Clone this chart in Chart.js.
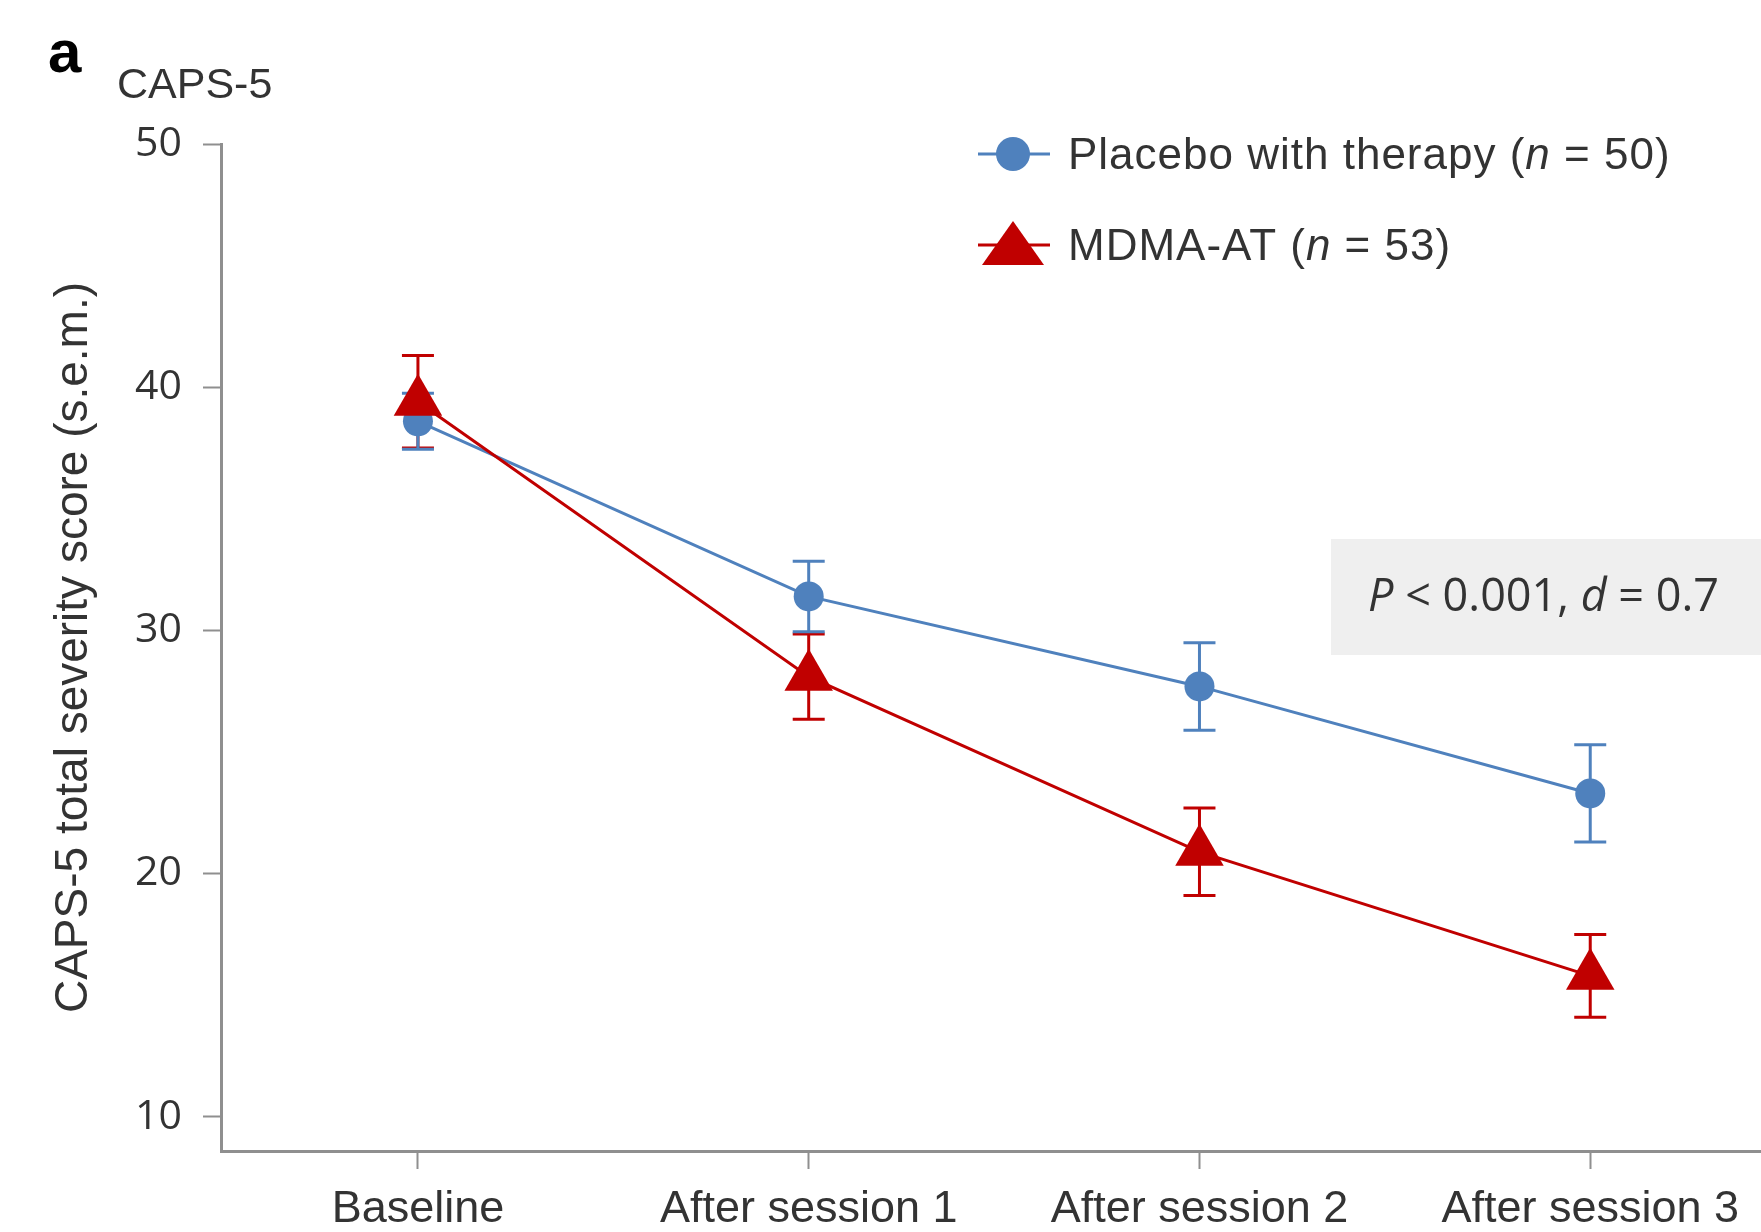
<!DOCTYPE html>
<html>
<head>
<meta charset="utf-8">
<script src="https://cdn.jsdelivr.net/npm/chart.js@4.4.1/dist/chart.umd.min.js"></script>
<style>
html, body { margin: 0; padding: 0; background: #fff; }
canvas { display: block; }
</style>
</head>
<body>
<canvas id="chart" width="1761" height="1232"></canvas>
<script>
// time points on the x axis
var timepoints = ["Baseline", "After session 1", "After session 2", "After session 3"];

// CAPS-5 mean scores and s.e.m.
var placeboMean = [38.6, 31.4, 27.7, 23.3];
var placeboSem = [1.15, 1.45, 1.8, 2.0];
var mdmaMean = [39.4, 28.1, 20.9, 15.8];
var mdmaSem = [1.9, 1.75, 1.8, 1.7];

var yTicks = [10, 20, 30, 40, 50];

var blue = "#4f81bd";
var red = "#c00000";
var axisGrey = "#8f8f8f";
var textColor = "#333333";

function toPoints(values) {
    return values.map(function (v, i) { return { x: i, y: v }; });
}

// s.e.m. whiskers, drawn under the markers
var errorBars = {
    id: "errorBars",
    beforeDatasetsDraw: function (chart) {
        var ctx = chart.ctx;
        var xs = chart.scales.x;
        var ys = chart.scales.y;
        chart.data.datasets.forEach(function (ds) {
            ctx.save();
            ctx.strokeStyle = ds.errorColor;
            ctx.lineWidth = 3;
            ds.data.forEach(function (p, i) {
                var px = xs.getPixelForValue(p.x);
                var top = ys.getPixelForValue(p.y + ds.sem[i]);
                var bot = ys.getPixelForValue(p.y - ds.sem[i]);
                ctx.beginPath();
                ctx.moveTo(px, top);
                ctx.lineTo(px, bot);
                ctx.moveTo(px - 16, top);
                ctx.lineTo(px + 16, top);
                ctx.moveTo(px - 16, bot);
                ctx.lineTo(px + 16, bot);
                ctx.stroke();
            });
            ctx.restore();
        });
    }
};

function drawRuns(ctx, runs, x, y) {
    runs.forEach(function (r) {
        ctx.font = r[1];
        ctx.fillText(r[0], x, y);
        x += ctx.measureText(r[0]).width;
    });
}

// panel letter, unit label, legend and stats box
var annotations = {
    id: "annotations",
    afterDraw: function (chart) {
        var ctx = chart.ctx;
        ctx.save();
        ctx.textBaseline = "alphabetic";
        ctx.textAlign = "left";

        ctx.fillStyle = "#000";
        ctx.font = "bold 60px 'Liberation Sans'";
        ctx.fillText("a", 48, 72);

        ctx.fillStyle = textColor;
        ctx.font = "43px 'Liberation Sans'";
        ctx.fillText("CAPS-5", 117, 98);

        // legend row 1
        ctx.strokeStyle = blue;
        ctx.lineWidth = 3;
        ctx.beginPath();
        ctx.moveTo(978, 154);
        ctx.lineTo(1050, 154);
        ctx.stroke();
        ctx.fillStyle = blue;
        ctx.beginPath();
        ctx.arc(1013, 154, 17, 0, Math.PI * 2);
        ctx.fill();

        // legend row 2
        ctx.strokeStyle = red;
        ctx.beginPath();
        ctx.moveTo(978, 245);
        ctx.lineTo(1050, 245);
        ctx.stroke();
        ctx.fillStyle = red;
        ctx.beginPath();
        ctx.moveTo(1013, 221);
        ctx.lineTo(1044, 265);
        ctx.lineTo(982, 265);
        ctx.closePath();
        ctx.fill();

        ctx.fillStyle = textColor;
        ctx.letterSpacing = "1px";
        var f = "44px 'Liberation Sans'";
        var fi = "italic 44px 'Liberation Sans'";
        drawRuns(ctx, [["Placebo with therapy (", f], ["n", fi], [" = 50)", f]], 1068, 169);
        drawRuns(ctx, [["MDMA-AT (", f], ["n", fi], [" = 53)", f]], 1068, 260);
        ctx.letterSpacing = "0px";

        // stats box
        ctx.fillStyle = "#efefef";
        ctx.fillRect(1331, 539, 430, 116);
        ctx.fillStyle = textColor;
        var g = "45px 'Open Sans'";
        var gi = "italic 45px 'Open Sans'";
        drawRuns(ctx, [["P", gi], [" < 0.001, ", g], ["d", gi], [" = 0.7", g]], 1368, 611);

        ctx.restore();
    }
};

new Chart(document.getElementById("chart"), {
    type: "line",
    data: {
        datasets: [
            {
                label: "MDMA-AT (n = 53)",
                data: toPoints(mdmaMean),
                sem: mdmaSem,
                errorColor: red,
                borderColor: red,
                backgroundColor: red,
                borderWidth: 3,
                pointStyle: "triangle",
                pointRadius: 28,
                pointBorderWidth: 0,
                pointBackgroundColor: red,
                order: 0
            },
            {
                label: "Placebo with therapy (n = 50)",
                data: toPoints(placeboMean),
                sem: placeboSem,
                errorColor: blue,
                borderColor: blue,
                backgroundColor: blue,
                borderWidth: 3,
                pointStyle: "circle",
                pointRadius: 15,
                pointBorderWidth: 0,
                pointBackgroundColor: blue,
                order: 1
            }
        ]
    },
    options: {
        responsive: false,
        animation: false,
        devicePixelRatio: 1,
        layout: {
            autoPadding: false,
            padding: { top: 144, left: 0, right: 0, bottom: 0 }
        },
        plugins: {
            legend: { display: false },
            tooltip: { enabled: false }
        },
        scales: {
            x: {
                type: "linear",
                min: -0.504,
                max: 3.437,
                offset: false,
                afterFit: function (s) {
                    s.height = 81;
                    s.paddingLeft = 0;
                    s.paddingRight = 0;
                },
                afterBuildTicks: function (s) {
                    s.ticks = timepoints.map(function (t, i) { return { value: i }; });
                },
                border: { display: true, color: axisGrey, width: 3 },
                grid: {
                    display: true,
                    drawOnChartArea: false,
                    drawTicks: true,
                    tickLength: 18,
                    tickColor: axisGrey,
                    tickWidth: 2
                },
                ticks: {
                    autoSkip: false,
                    maxRotation: 0,
                    padding: 14,
                    color: textColor,
                    font: { family: "'Liberation Sans'", size: 45 },
                    callback: function (v) { return timepoints[v]; }
                }
            },
            y: {
                type: "linear",
                min: 8.6,
                max: 50,
                afterFit: function (s) { s.width = 221; },
                afterBuildTicks: function (s) {
                    s.ticks = yTicks.map(function (v) { return { value: v }; });
                },
                border: { display: true, color: axisGrey, width: 3 },
                grid: {
                    display: true,
                    drawOnChartArea: false,
                    drawTicks: true,
                    tickLength: 18,
                    tickColor: axisGrey,
                    tickWidth: 2
                },
                ticks: {
                    padding: 21,
                    color: textColor,
                    font: { family: "'Open Sans'", size: 41 }
                },
                title: {
                    display: true,
                    text: "CAPS-5 total severity score (s.e.m.)",
                    color: textColor,
                    font: { family: "'Liberation Sans'", size: 46 },
                    padding: { top: 47, bottom: 0 }
                }
            }
        }
    },
    plugins: [errorBars, annotations]
});
</script>
</body>
</html>
